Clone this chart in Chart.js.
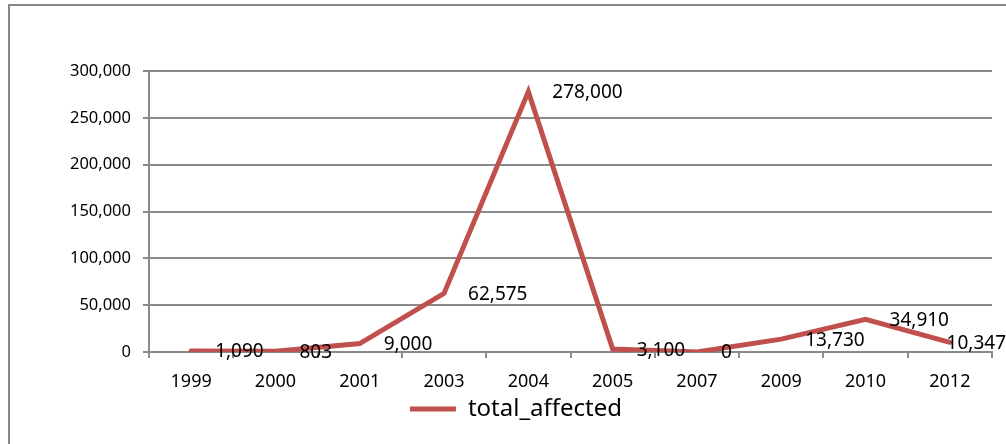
<!DOCTYPE html>
<html>
<head>
<meta charset="utf-8">
<title>total_affected</title>
<script src="https://cdn.jsdelivr.net/npm/chart.js@4.4.1/dist/chart.umd.min.js"></script>
<style>
  html, body { margin: 0; padding: 0; background: #fff; overflow: hidden; }
  #wrap { width: 1006px; height: 444px; position: relative; }
</style>
</head>
<body>
<div id="wrap"><canvas id="affectedChart" width="1006" height="444"></canvas></div>
<script>
// Years and number of people affected
const years = ['1999', '2000', '2001', '2003', '2004', '2005', '2007', '2009', '2010', '2012'];
const totalAffected = [1090, 803, 9000, 62575, 278000, 3100, 0, 13730, 34910, 10347];
const yTicks = [0, 50000, 100000, 150000, 200000, 250000, 300000];

const LINE_COLOR = '#C0504D';
const GRID_COLOR = '#8a8a8a';
const FONT = "'Noto Sans', 'Open Sans', sans-serif";

// White background plus the thin frame around the whole chart
const framePlugin = {
  id: 'frame',
  beforeDraw(chart) {
    const ctx = chart.ctx;
    ctx.save();
    ctx.fillStyle = '#fff';
    ctx.fillRect(0, 0, chart.width, chart.height);
    ctx.strokeStyle = '#878787';
    ctx.lineWidth = 2;
    ctx.strokeRect(9, 5, chart.width + 20, chart.height + 20);
    ctx.restore();
  }
};

// Value labels to the right of each point, kept inside the canvas
const valueLabels = {
  id: 'valueLabels',
  afterDatasetsDraw(chart) {
    const ctx = chart.ctx;
    const meta = chart.getDatasetMeta(0);
    ctx.save();
    ctx.font = '19px ' + FONT;
    ctx.fillStyle = '#000';
    ctx.textBaseline = 'middle';
    meta.data.forEach((pt, i) => {
      const text = totalAffected[i].toLocaleString('en-US');
      const w = ctx.measureText(text).width;
      let x = pt.x + 24;
      if (x + w > chart.width) x = chart.width - w;
      ctx.fillText(text, x, pt.y + 1);
    });
    ctx.restore();
  }
};

new Chart(document.getElementById('affectedChart'), {
  type: 'line',
  data: {
    labels: years,
    datasets: [{
      label: 'total_affected',
      data: totalAffected,
      borderColor: LINE_COLOR,
      backgroundColor: LINE_COLOR,
      borderWidth: 5,
      borderCapStyle: 'round',
      pointRadius: 0,
      tension: 0,
      fill: false
    }]
  },
  options: {
    responsive: false,
    animation: false,
    layout: { padding: { top: 71, left: 40, right: 14, bottom: 13 } },
    plugins: {
      tooltip: { enabled: false },
      legend: {
        position: 'bottom',
        labels: {
          boxWidth: 46,
          boxHeight: 5,
          padding: 10,
          color: '#000',
          font: { family: FONT, size: 24 },
          generateLabels(chart) {
            const items = Chart.defaults.plugins.legend.labels.generateLabels(chart);
            items.forEach(item => { item.lineWidth = 0; item.fillStyle = LINE_COLOR; });
            return items;
          }
        }
      }
    },
    scales: {
      x: {
        type: 'category',
        offset: true,
        grid: { offset: true, drawOnChartArea: false, tickLength: 6, color: GRID_COLOR, lineWidth: 2 },
        border: { color: GRID_COLOR, width: 2 },
        ticks: { color: '#000', padding: 13, maxRotation: 0, font: { family: FONT, size: 18 } },
        afterFit(scale) { scale.height = 35; }
      },
      y: {
        min: 0,
        max: 300000,
        afterBuildTicks(scale) { scale.ticks = yTicks.map(v => ({ value: v })); },
        grid: { tickLength: 6, color: GRID_COLOR, lineWidth: 2 },
        border: { color: GRID_COLOR, width: 2 },
        ticks: {
          color: '#000',
          padding: 12,
          font: { family: FONT, size: 16.5 },
          callback: v => v.toLocaleString('en-US')
        },
        afterFit(scale) { scale.width = 109; }
      }
    }
  },
  plugins: [framePlugin, valueLabels]
});
</script>
</body>
</html>
